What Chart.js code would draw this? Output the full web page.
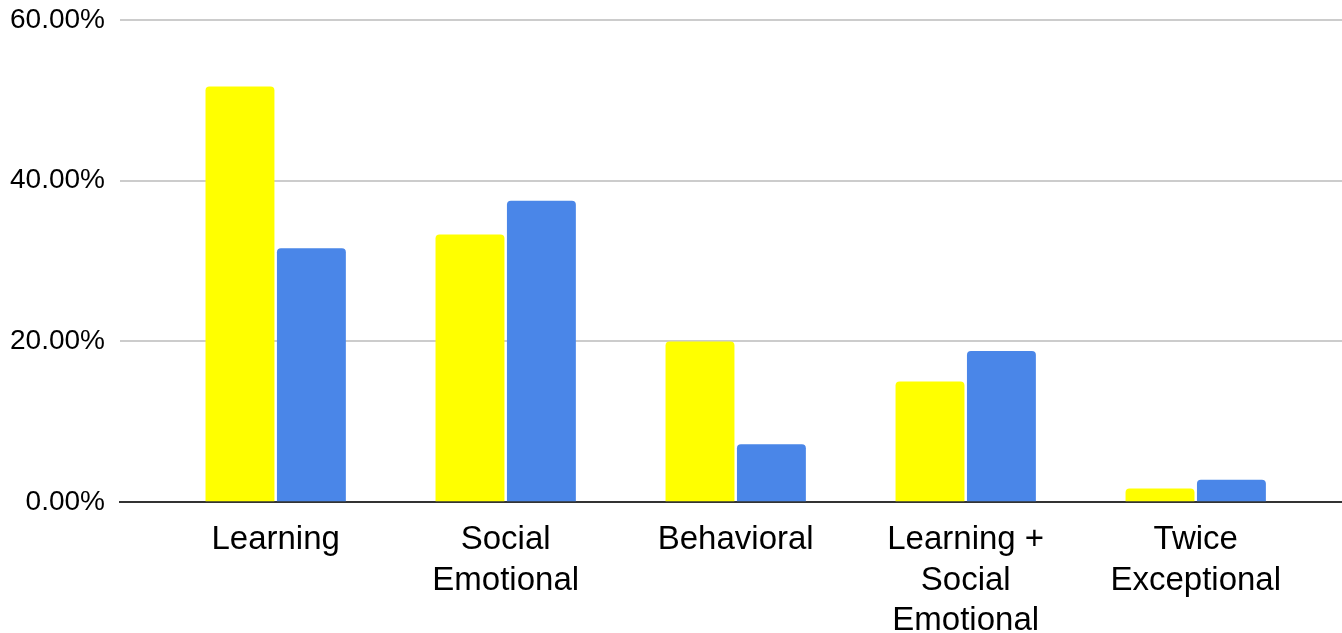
<!DOCTYPE html>
<html>
<head>
<meta charset="utf-8">
<script src="https://cdn.jsdelivr.net/npm/chart.js@4"></script>
<style>
html,body{margin:0;padding:0;background:#fff;overflow:hidden;}
#outer{width:1342px;height:633px;position:relative;overflow:hidden;}
#wrap{width:1342px;height:671px;position:absolute;left:0;top:-12px;}
</style>
</head>
<body>
<div id="outer"><div id="wrap"><canvas id="c"></canvas></div></div>
<script>
const categories = [["Learning"], ["Social", "Emotional"], ["Behavioral"], ["Learning +", "Social", "Emotional"], ["Twice", "Exceptional"]];
const seriesYellow = [51.7, 33.3, 20.0, 15.0, 1.7];
const seriesBlue = [31.6, 37.5, 7.2, 18.8, 2.8];
const yTicks = [0, 20, 40, 60];

const toPoints = arr => arr.map((v, i) => ({x: i, y: v}));

new Chart(document.getElementById('c'), {
  type: 'bar',
  data: {
    datasets: [
      {label: 'Series 1', data: toPoints(seriesYellow), backgroundColor: '#ffff00',
       borderRadius: {topLeft: 4, topRight: 4}, borderSkipped: 'start',
       categoryPercentage: 0.621, barPercentage: 0.965},
      {label: 'Series 2', data: toPoints(seriesBlue), backgroundColor: '#4a86e8',
       borderRadius: {topLeft: 4, topRight: 4}, borderSkipped: 'start',
       categoryPercentage: 0.621, barPercentage: 0.965}
    ]
  },
  options: {
    responsive: true,
    maintainAspectRatio: false,
    animation: false,
    layout: {padding: {left: -5, right: 0, top: 0, bottom: 0}},
    plugins: {legend: {display: false}, tooltip: {enabled: false}},
    scales: {
      x: {
        type: 'linear',
        offset: false,
        min: -0.677,
        max: 4.636,
        afterBuildTicks: s => { s.ticks = categories.map((c, i) => ({value: i})); },
        ticks: {
          autoSkip: false, maxRotation: 0,
          color: '#000',
          font: {family: '"Liberation Sans", Arial, sans-serif', size: 33, lineHeight: 1.22},
          padding: 18,
          callback: v => categories[v]
        },
        grid: {display: false, drawTicks: false},
        border: {display: true, color: '#333', width: 2}
      },
      y: {
        min: 0, max: 60,
        afterBuildTicks: s => { s.ticks = yTicks.map(v => ({value: v})); },
        ticks: {
          color: '#000',
          font: {family: '"Liberation Sans", Arial, sans-serif', size: 28},
          padding: 15,
          callback: v => v.toFixed(2) + '%'
        },
        grid: {color: '#cccccc', lineWidth: 2, drawTicks: false},
        border: {display: false}
      }
    }
  }
});
</script>
</body>
</html>
